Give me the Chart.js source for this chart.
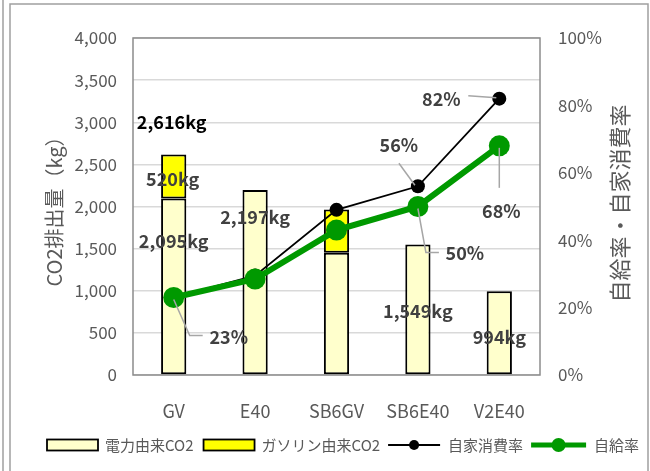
<!DOCTYPE html>
<html>
<head>
<meta charset="utf-8">
<script src="https://cdn.jsdelivr.net/npm/chart.js@4/dist/chart.umd.min.js"></script>
<style>
  html, body { margin: 0; padding: 0; background: #fff; }
  #wrap { width: 650px; height: 471px; position: relative; }
</style>
</head>
<body>
<div id="wrap"><canvas id="c" width="650" height="471"></canvas></div>
<script>
// Vehicle / energy configurations
const categories = ['GV', 'E40', 'SB6GV', 'SB6E40', 'V2E40'];
// Annual CO2 emissions (kg)
const electricCO2 = [2095.4, 2197, 1450, 1549, 994];
const gasolineCO2 = [520.4, null, 515, null, null];
// Rates (%)
const selfConsumptionRate = [23, 29.5, 49, 56, 82];
const selfSufficiencyRate = [23, 28.5, 43, 50, 68];
// Axis ticks
const co2Ticks = [0, 500, 1000, 1500, 2000, 2500, 3000, 3500, 4000];
const rateTicks = [0, 20, 40, 60, 80, 100];

const FONT = "'Noto Sans CJK JP', 'Noto Sans', sans-serif";
const GRAY_TEXT = '#595959';
const LABEL_TEXT = '#404040';
const LEADER = '#a6a6a6';

const fmt = v => Math.round(v).toLocaleString('en-US');

// Which values get a printed label, and where the label sits relative to its mark
// (offsets in px; leader lines as point lists relative to the mark).
const kgLabels = [
  { ds: 1, i: 0, total: true, dx: -2, dy: -32, color: '#000' },
  { ds: 1, i: 0, dx: -1, dy: 25 },
  { ds: 0, i: 0, dx: 0, dy: 43 },
  { ds: 0, i: 1, dx: 0, dy: 27 },
  { ds: 0, i: 3, dx: 0, dy: 67 },
  { ds: 0, i: 4, dx: 0, dy: 46 }
];
const pctLabels = [
  { ds: 3, i: 0, dx: 55, dy: 40, leader: [[0, 2], [16, 38], [29, 38]] },
  { ds: 3, i: 3, dx: 47, dy: 47, leader: [[0, 2], [8, 46], [21, 46]] },
  { ds: 3, i: 4, dx: 2, dy: 65, leader: [[0, 2], [0, 42]] },
  { ds: 2, i: 3, dx: -19, dy: -41, leader: [[-19, -23], [-3, -1]] },
  { ds: 2, i: 4, dx: -58, dy: 0, leader: [[-31, -3], [-3, -1]] }
];

const framePlugin = {
  id: 'frame',
  beforeDraw(chart) {
    const c = chart.ctx;
    c.save();
    c.fillStyle = '#fff';
    c.fillRect(0, 0, chart.width, chart.height);
    c.strokeStyle = '#a0a0a0';
    c.lineWidth = 1.5;
    c.beginPath();
    c.moveTo(3, 0); c.lineTo(3, chart.height);
    c.moveTo(10, chart.height); c.lineTo(10, 4); c.lineTo(648, 4); c.lineTo(648, chart.height);
    c.stroke();
    c.restore();
  },
  beforeDatasetsDraw(chart) {
    const a = chart.chartArea, c = chart.ctx;
    c.save();
    c.strokeStyle = '#8c8c8c';
    c.lineWidth = 1.5;
    c.strokeRect(a.left, a.top, a.right - a.left, a.bottom - a.top);
    c.restore();
  }
};

const annotatePlugin = {
  id: 'annotate',
  afterDraw(chart) {
    const c = chart.ctx;
    c.save();
    c.textAlign = 'center';
    c.textBaseline = 'middle';
    c.font = `bold 18px ${FONT}`;

    // kg labels on the bars
    kgLabels.forEach(L => {
      const el = chart.getDatasetMeta(L.ds).data[L.i];
      let value;
      if (L.total) value = (electricCO2[L.i] || 0) + (gasolineCO2[L.i] || 0);
      else value = L.ds === 0 ? electricCO2[L.i] : gasolineCO2[L.i];
      c.fillStyle = L.color || LABEL_TEXT;
      c.fillText(fmt(value) + 'kg', el.x + L.dx, el.y + L.dy);
    });

    // % labels on the rate lines
    pctLabels.forEach(L => {
      const el = chart.getDatasetMeta(L.ds).data[L.i];
      const v = chart.data.datasets[L.ds].data[L.i];
      if (L.leader) {
        c.strokeStyle = LEADER;
        c.lineWidth = 1.5;
        c.beginPath();
        L.leader.forEach((p, k) => {
          const px = el.x + p[0], py = el.y + p[1];
          k ? c.lineTo(px, py) : c.moveTo(px, py);
        });
        c.stroke();
      }
      c.fillStyle = LABEL_TEXT;
      c.fillText(Math.round(v) + '%', el.x + L.dx, el.y + L.dy);
    });

    // right axis title, reading bottom to top
    const r = chart.scales.y1;
    c.save();
    c.translate(620, (r.top + r.bottom) / 2 - 3);
    c.rotate(-Math.PI / 2);
    c.font = `22px ${FONT}`;
    c.fillStyle = GRAY_TEXT;
    c.fillText('自給率・自家消費率', 0, 0);
    c.restore();

    // legend
    const ds = chart.data.datasets;
    const ly = 445;
    let x = 47;
    c.font = `15px ${FONT}`;
    c.textAlign = 'left';
    ds.forEach((d, k) => {
      if (d.type === 'bar') {
        c.fillStyle = d.backgroundColor;
        c.fillRect(x, ly - 5.5, 51, 11);
        c.strokeStyle = '#000';
        c.lineWidth = 1.8;
        c.strokeRect(x, ly - 5.5, 51, 11);
        x += 51 + 7;
      } else {
        const w = k === 2 ? 52 : 55;
        c.strokeStyle = d.borderColor;
        c.lineWidth = k === 2 ? 1.8 : 5;
        c.beginPath(); c.moveTo(x, ly); c.lineTo(x + w, ly); c.stroke();
        c.fillStyle = d.borderColor;
        c.beginPath(); c.arc(x + w / 2, ly, k === 2 ? 5 : 7, 0, Math.PI * 2); c.fill();
        x += w + 8;
      }
      c.fillStyle = GRAY_TEXT;
      c.fillText(d.label, x, ly);
      x += c.measureText(d.label).width + (k === 0 ? 10 : 8);
    });
    c.restore();
  }
};

new Chart(document.getElementById('c'), {
  data: {
    labels: categories,
    datasets: [
      {
        type: 'bar', label: '電力由来CO2', data: electricCO2, yAxisID: 'y',
        backgroundColor: '#FFFFCC', borderColor: '#000', borderWidth: 2, borderSkipped: false,
        categoryPercentage: 1, barPercentage: 0.31, order: 5
      },
      {
        type: 'bar', label: 'ガソリン由来CO2', data: gasolineCO2, yAxisID: 'y',
        backgroundColor: '#FFFF00', borderColor: '#000', borderWidth: 2, borderSkipped: false,
        categoryPercentage: 1, barPercentage: 0.31, order: 5
      },
      {
        type: 'line', label: '自家消費率', data: selfConsumptionRate, yAxisID: 'y1',
        borderColor: '#000', backgroundColor: '#000', borderWidth: 1.8,
        pointRadius: 7, pointBackgroundColor: '#000', pointBorderWidth: 0,
        tension: 0, order: 1
      },
      {
        type: 'line', label: '自給率', data: selfSufficiencyRate, yAxisID: 'y1',
        borderColor: '#009900', backgroundColor: '#009900', borderWidth: 6,
        pointRadius: 10.5, pointBackgroundColor: '#009900', pointBorderWidth: 0,
        tension: 0, order: 0
      }
    ]
  },
  options: {
    responsive: false,
    animation: false,
    devicePixelRatio: 1,
    layout: { padding: { top: 38, left: 0, right: 0, bottom: 0 } },
    plugins: {
      legend: { display: false },
      tooltip: { enabled: false }
    },
    scales: {
      x: {
        stacked: true,
        grid: { display: false, drawTicks: false },
        border: { display: false },
        ticks: { padding: 25, color: GRAY_TEXT, font: { family: FONT, size: 18 } },
        afterFit(s) { s.height = 96; }
      },
      y: {
        stacked: true,
        min: co2Ticks[0], max: co2Ticks[co2Ticks.length - 1],
        afterBuildTicks(s) { s.ticks = co2Ticks.map(v => ({ value: v })); },
        grid: { color: '#d9d9d9', lineWidth: 1.5, drawTicks: false },
        border: { display: false },
        ticks: {
          padding: 16, color: GRAY_TEXT, font: { family: FONT, size: 17 },
          callback: v => v.toLocaleString('en-US')
        },
        title: {
          display: true, text: 'CO2排出量（kg）', color: GRAY_TEXT,
          font: { family: FONT, size: 20 }, padding: { top: 42, bottom: 0 }
        },
        afterFit(s) { s.width = 133; }
      },
      y1: {
        position: 'right',
        min: rateTicks[0], max: rateTicks[rateTicks.length - 1],
        afterBuildTicks(s) { s.ticks = rateTicks.map(v => ({ value: v })); },
        grid: { display: false, drawTicks: false },
        border: { display: false },
        ticks: {
          padding: 18, color: GRAY_TEXT, font: { family: FONT, size: 17 },
          callback: v => v + '%'
        },
        afterFit(s) { s.width = 110; }
      }
    }
  },
  plugins: [framePlugin, annotatePlugin]
});
</script>
</body>
</html>
